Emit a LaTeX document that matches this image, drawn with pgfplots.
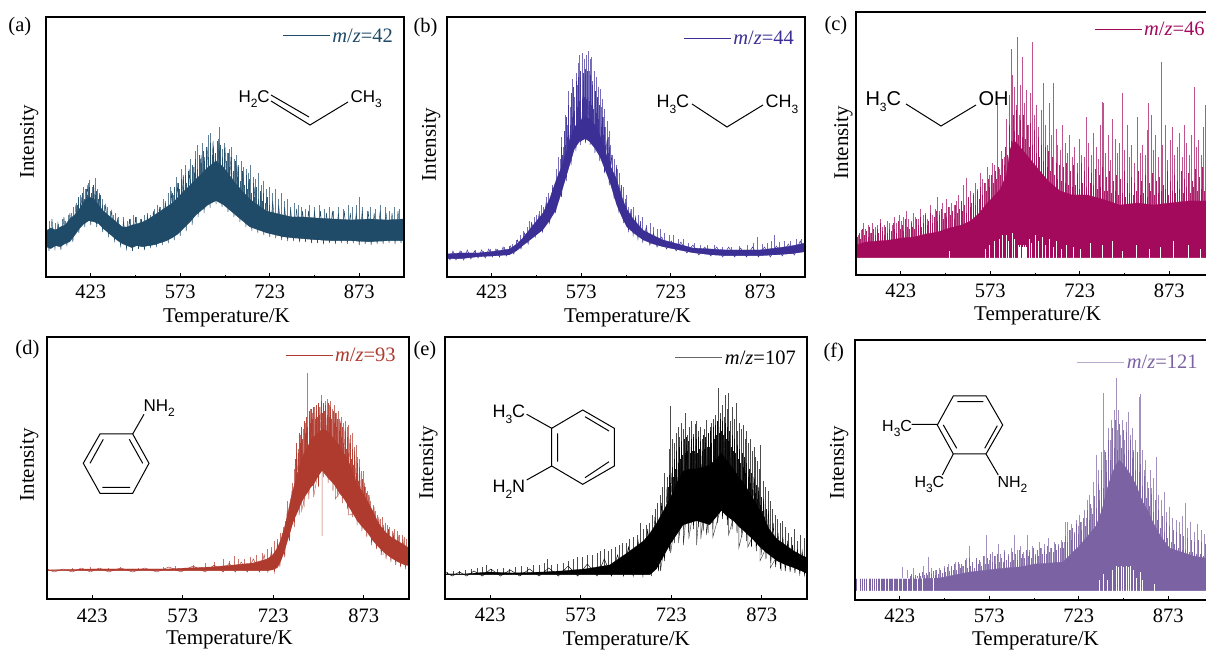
\documentclass[border=0pt]{standalone}
\usepackage{pgfplots}
\usepackage{pgfplotstable}
\usepackage{fontspec}
\pgfplotsset{compat=1.18}
\setmainfont{Liberation Serif}
\newfontfamily\chem{Liberation Sans}
\definecolor{ca}{HTML}{1F4A68}
\definecolor{cb}{HTML}{3B2F96}
\definecolor{cc}{HTML}{A30A5C}
\definecolor{cd}{HTML}{AF3A2E}
\definecolor{ce}{HTML}{000000}
\definecolor{cf}{HTML}{7B62A3}
\newcommand\sub[1]{\raisebox{-.28em}{\fontsize{12}{12}\selectfont #1}}
\newcommand\ch[4]{\node[anchor=base west,inner sep=0pt,font=\chem\fontsize{#3}{#3}\selectfont] at (#1,#2) {#4};}
\newcommand\mz[3]{\addlegendimage{color=#3}\addlegendentry{\textcolor{#1}{\textit{m}/\textit{z}=#2}}}
\pgfplotsset{
 pan/.style={scale only axis, xmin=348, xmax=948, ymin=0, axis on top, no markers,
  xtick={423,573,723,873}, minor xtick={498,648,798}, ytick=\empty,
  xtick pos=lower, tick align=inside, major tick length=4pt, minor tick length=1.5pt,
  every tick/.style={black,line width=1pt},
  axis line style={line width=1.5pt},
  /pgf/number format/assume math mode=true,
  tick label style={font=\fontsize{20.5}{20.5}\selectfont},
  xlabel={Temperature/K}, ylabel={Intensity},
  label style={font=\fontsize{21}{21}\selectfont},
  legend image code/.code={\draw[##1,line width=1pt] (0pt,0pt) -- (47pt,0pt);},
  legend style={draw=none,fill=none,inner sep=0pt,anchor=east,font=\fontsize{20.5}{20.5}\selectfont},
 },
 spk/.style={ycomb,forget plot,color=#1,line width=.5pt,opacity=.7},
 rough/.style={ycomb,forget plot,color=#1,line width=.7pt,opacity=.9},
 band/.style={forget plot,fill=#1,draw=#1,line width=.3pt},
 under/.style={forget plot,fill=white,draw=none},
 hole/.style={ycomb,forget plot,color=white,line width=.6pt},
 down/.style={forget plot,color=#1,line width=.4pt,opacity=.8},
 zig/.style={forget plot,color=#1,line width=.45pt},
}
\pgfplotstableread{
x lo hi
348 30 46
356 28 49
364 31 47
372 30 50
380 33 52
388 35 58
396 41 62
404 48 68
412 53 76
420 56 80
428 55 78
436 53 72
444 48 66
452 44 62
460 40 58
468 36 54
476 33 50
484 31 50
492 29 52
500 31 53
510 30 55
520 31 58
530 32 62
540 34 66
550 36 70
560 39 74
570 43 80
580 49 86
590 55 92
600 62 98
610 67 104
620 72 110
633 76 116
645 72 110
655 67 102
665 62 94
677 56 86
689 50 78
703 47 72
717 44 66
731 42 64
745 40 62
760 39 60
780 38 60
800 37 59
830 36 58
860 36 57
890 35 58
920 36 57
948 36 58
}\tA
\pgfplotstableread{
x lo hi
348 18 23
370 18 24
400 20 24
430 21 26
453 22 28
465 26 33
475 31 39
490 38 50
509 47 64
520 56 78
531 67 97
540 84 110
548 100 124
554 112 138
562 128 150
570 135 156
580 138 160
587 135 158
596 128 152
604 120 142
612 108 128
621 94 112
632 72 98
642 58 78
649 50 68
660 44 58
676 37 47
692 33 42
710 30 37
735 27 33
760 24 29
790 22 28
816 21 27
845 21 27
872 21 27
900 22 29
925 23 31
948 25 34
}\tB
\pgfplotstableread{
x lo hi
348 17 30
365 17 33
385 17 34
405 17 35
425 17 37
445 17 38
465 17 41
485 17 43
505 17 47
525 17 50
540 17 54
555 17 62
565 17 70
578 17 78
590 17 86
600 17 100
606 17 125
612 17 135
620 17 130
634 17 120
645 17 112
656 17 104
670 17 94
690 17 84
710 17 80
735 17 80
760 17 76
790 17 70
820 17 72
846 17 70
875 17 72
905 17 74
935 17 74
948 17 72
}\tC
\pgfplotstableread{
x lo hi
348 28 29
380 28 29.5
420 28 30
450 28 30
500 28 30
547 28 30
580 28 31
620 28 32
658 28 34
690 28 36
713 28 40
722 29 44
730 31 51
736 38 60
741 46 70
746 56 82
752 68 100
757 78 112
763 86 125
770 96 140
774 101 146
780 106 152
786 112 160
790 114 162
797 122 166
804 128 170
812 122 168
818 118 164
824 114 160
832 106 154
840 100 146
846 94 140
854 86 128
862 78 114
870 72 108
879 66 98
888 58 88
897 52 76
907 46 68
918 41 62
929 37 58
940 34 54
948 33 51
}\tD
\pgfplotstableread{
x lo hi
348 24 25
380 24 25
420 24 27
460 24 26
511 24 27
540 24 28
580 24 30
621 24 34
650 24 46
677 24 58
688 24 66
699 30 76
710 42 88
721 54 100
732 64 116
743 74 128
754 76 130
765 78 130
776 76 132
787 74 134
798 82 140
806 88 146
816 82 138
826 78 130
835 72 122
843 68 116
857 60 102
871 51 88
885 44 70
898 38 60
912 34 54
926 31 48
938 28 44
949 25 41
}\tE
\pgfplotstableread{
x lo hi
348 9 21
400 9 21
450 9 21
490 9 22
515 9 25
540 9 28
570 9 30
600 9 32
624 9 33
650 9 36
675 9 37
697 9 38
710 9 46
724 9 54
738 9 64
752 9 74
762 9 90
770 9 110
778 9 125
785 9 135
791 9 140
800 9 134
810 9 125
819 9 115
830 9 98
840 9 88
847 9 78
860 9 64
875 9 52
895 9 48
915 9 44
935 9 42
948 9 42
}\tF
\begin{document}
\begin{tikzpicture}
\useasboundingbox (0,0) rectangle (1206pt,650pt);
\clip (0,0) rectangle (1206pt,650pt);
% (a)
\begin{axis}[pan,at={(46pt,373pt)},anchor=south west,width=358pt,height=260pt,ymax=260,
 legend style={at={(.975,.927)}},
 xticklabel style={anchor=base,yshift=-22pt},
 xlabel style={at={(axis description cs:.504,0)},anchor=base,yshift=-46pt},
 ylabel style={at={(axis description cs:-.034,.52)},anchor=base}]
\addplot[spk=ca] coordinates {(348,52)(353,56)(358,50)(364,54)(369,53)(375,58)(380,56)(385,62)(390,64)(394,70)(398,74)(402,78)(406,82)(410,90)(414,88)(418,94)(421,97)(425,90)(428,92)(431,99)(434,88)(438,84)(442,78)(446,72)(450,70)(455,66)(460,62)(464,64)(469,60)(473,52)(478,60)(484,56)(489,58)(495,62)(500,60)(506,58)(512,62)(517,64)(523,62)(529,68)(534,72)(539,70)(544,78)(548,74)(553,84)(557,90)(562,82)(566,100)(570,92)(574,108)(578,100)(582,112)(586,106)(590,118)(594,110)(598,126)(602,132)(606,118)(610,134)(613,120)(617,126)(620,142)(624,144)(628,130)(632,118)(636,138)(639,150)(643,128)(647,134)(651,124)(655,128)(659,130)(663,118)(667,122)(671,112)(675,116)(679,110)(683,108)(687,104)(691,112)(695,100)(699,98)(703,104)(708,92)(712,96)(717,88)(722,90)(727,84)(732,88)(737,78)(742,84)(748,76)(753,78)(758,70)(764,74)(770,72)(776,70)(782,68)(790,72)(798,70)(806,72)(814,68)(822,70)(830,66)(838,70)(846,68)(854,72)(862,70)(868,72)(873,80)(878,70)(886,66)(892,70)(900,68)(908,72)(916,70)(924,66)(932,70)(940,68)(948,66)};
\addplot[rough=ca] coordinates {(400,72)(403,80)(406,74)(409,84)(412,78)(415,88)(418,82)(421,90)(424,84)(427,92)(430,82)(433,86)(436,78)(439,82)(442,72)(560,84)(563,90)(566,82)(569,94)(572,88)(575,98)(578,90)(581,102)(584,94)(587,106)(590,98)(593,112)(596,104)(599,118)(602,108)(605,122)(608,114)(611,126)(614,116)(617,130)(620,120)(623,134)(626,122)(629,128)(632,124)(635,136)(638,126)(641,132)(644,120)(647,128)(650,116)(653,124)(656,110)(659,120)(662,106)(665,116)(668,100)(671,110)(674,96)(677,106)(680,92)(683,102)(686,88)(689,98)(692,84)(695,94)(698,80)(701,90)(704,78)(707,86)(710,76)(713,84)(716,74)(719,80)(722,72)};
\addplot[band=ca] table[y=hi] {\tA} \closedcycle;
\addplot[under] table[y=lo] {\tA} \closedcycle;
\addplot[zig=ca] coordinates {(348,56)(353,26)(358,58)(363,28)(368,54)(373,27)(378,60)(383,31)(388,64)(393,35)(398,72)(403,44)(408,80)(413,50)(418,92)(423,52)(428,90)(433,50)(438,82)(443,45)(448,72)(453,41)(458,66)(463,36)(468,58)(473,31)(478,56)(483,28)(488,58)(493,26)(498,60)(503,28)(508,58)(513,27)(518,62)(523,29)(528,66)(533,30)(538,70)(543,32)(548,76)(553,34)(558,86)(563,37)(568,94)(573,41)(578,102)(583,46)(588,108)(593,52)(598,114)(603,60)(608,122)(613,64)(618,130)(623,69)(628,136)(633,73)(638,134)(643,70)(648,130)(653,65)(658,120)(663,60)(668,112)(673,55)(678,106)(683,50)(688,96)(693,46)(698,90)(703,44)(708,84)(713,42)(718,80)(723,40)(728,76)(733,39)(738,72)(743,37)(748,70)(753,36)(758,68)(763,36)(768,68)(773,35)(778,66)(783,35)(788,66)(793,34)(798,66)(803,34)(808,66)(813,33)(818,64)(823,34)(828,66)(833,33)(838,64)(843,34)(848,66)(853,33)(858,64)(863,34)(868,64)(873,32)(878,66)(883,33)(888,66)(893,32)(898,64)(903,33)(908,66)(913,33)(918,64)(923,34)(928,64)(933,33)(938,66)(943,34)(948,64)};
\mz{ca}{42}{ca}
\end{axis}
% (b)
\begin{axis}[pan,at={(447pt,373pt)},anchor=south west,width=358pt,height=260pt,ymax=260,
 legend style={at={(.975,.919)}},
 xticklabel style={anchor=base,yshift=-22pt},
 xlabel style={at={(axis description cs:.504,0)},anchor=base,yshift=-46pt},
 ylabel style={at={(axis description cs:-.031,.51)},anchor=base}]
\addplot[spk=cb] coordinates {(348,25)(360,24)(372,26)(384,25)(396,27)(408,26)(420,28)(432,28)(444,30)(452,31)(458,33)(464,37)(470,42)(476,46)(482,50)(486,56)(490,55)(494,60)(498,62)(502,66)(506,72)(510,70)(514,80)(518,84)(522,78)(525,92)(528,88)(531,108)(534,120)(537,118)(540,140)(543,130)(546,162)(549,152)(552,186)(555,170)(558,198)(561,180)(564,204)(566,192)(568,214)(570,222)(572,200)(574,224)(576,196)(578,218)(580,202)(582,222)(584,226)(586,206)(588,218)(590,220)(592,196)(594,206)(596,186)(598,200)(600,178)(602,190)(604,188)(606,170)(608,178)(610,160)(612,168)(614,150)(616,156)(618,140)(620,146)(622,132)(625,122)(628,118)(631,112)(634,108)(637,104)(640,92)(643,90)(646,78)(649,82)(652,70)(656,68)(660,70)(664,58)(668,62)(672,56)(676,60)(682,52)(688,54)(694,50)(700,48)(706,48)(712,44)(720,42)(728,42)(736,38)(744,38)(752,34)(762,34)(772,32)(784,32)(796,32)(810,30)(824,30)(838,31)(852,32)(862,34)(868,40)(876,33)(884,34)(892,36)(897,42)(904,35)(914,36)(924,36)(934,38)(942,38)(948,42)};
\addplot[rough=cb] coordinates {(540,130)(542,122)(544,146)(546,132)(548,160)(550,140)(552,172)(554,152)(556,184)(558,160)(560,190)(562,166)(564,196)(566,170)(568,200)(570,176)(572,206)(574,178)(576,204)(578,180)(580,208)(582,178)(584,206)(586,176)(588,202)(590,172)(592,192)(594,168)(596,186)(598,164)(600,180)(602,158)(604,172)(606,150)(608,160)(610,142)(612,150)(614,132)(616,138)(618,124)(620,130)(622,116)};
\addplot[band=cb] table[y=hi] {\tB} \closedcycle;
\addplot[under] table[y=lo] {\tB} \closedcycle;
\addplot[zig=cb] coordinates {(348,25)(353,17)(358,26)(363,17)(370,26)(376,17)(382,27)(388,18)(394,26)(400,19)(406,27)(412,19)(418,28)(424,20)(430,28)(436,20)(442,30)(448,21)(454,31)(460,23)(466,37)(472,28)(478,44)(484,33)(490,54)(496,40)(502,62)(508,45)(514,74)(520,54)(525,88)(530,64)(535,104)(540,80)(544,124)(548,96)(552,146)(556,112)(560,164)(564,126)(568,176)(572,132)(576,182)(580,134)(584,180)(588,132)(592,176)(596,124)(600,172)(604,116)(608,156)(612,104)(616,136)(620,92)(624,122)(628,78)(632,110)(636,64)(640,92)(644,54)(648,74)(652,46)(656,66)(660,42)(664,60)(668,38)(672,54)(676,35)(682,50)(688,32)(694,44)(700,30)(708,40)(716,28)(724,36)(732,26)(740,35)(750,24)(760,32)(770,22)(780,30)(790,21)(800,30)(810,20)(820,30)(830,20)(840,29)(850,20)(860,30)(870,20)(880,30)(890,20)(900,31)(910,21)(920,33)(930,22)(940,36)(948,24)};
\mz{cb}{44}{cb}
\end{axis}
% (c)
\begin{axis}[pan,at={(856pt,375pt)},anchor=south west,width=358pt,height=263pt,ymax=263,
 legend style={at={(.98,.935)}},
 xticklabel style={anchor=base,yshift=-23pt},
 xlabel style={at={(axis description cs:.507,0)},anchor=base,yshift=-46pt},
 ylabel style={at={(axis description cs:-.022,.503)},anchor=base}]
\addplot[spk=cc] coordinates {(348,62)(352,40)(356,45)(360,52)(364,46)(368,50)(372,42)(376,52)(380,48)(384,50)(388,56)(392,48)(396,50)(400,54)(404,52)(408,50)(412,58)(416,52)(420,60)(424,54)(428,58)(432,64)(436,56)(440,54)(444,62)(448,58)(452,56)(456,66)(460,60)(464,62)(468,56)(472,70)(476,60)(480,66)(484,78)(488,64)(492,72)(496,62)(500,76)(504,68)(508,72)(512,70)(516,74)(520,80)(524,72)(528,90)(532,97)(536,76)(540,84)(544,82)(548,92)(552,86)(556,102)(560,96)(564,92)(568,108)(572,100)(576,112)(580,110)(584,172)(588,106)(592,124)(596,118)(600,156)(604,180)(608,226)(610,200)(613,188)(616,170)(618,238)(621,160)(624,190)(627,218)(630,172)(633,185)(636,150)(640,182)(644,233)(647,160)(650,170)(654,148)(658,165)(662,192)(665,150)(668,130)(672,172)(676,140)(679,192)(683,146)(686,130)(690,125)(694,150)(698,132)(702,122)(706,140)(710,118)(714,128)(718,112)(722,136)(726,120)(730,118)(734,158)(738,132)(742,120)(746,142)(750,128)(754,116)(758,150)(760,173)(763,172)(766,122)(770,140)(774,115)(778,156)(782,136)(786,122)(790,132)(795,182)(798,125)(802,150)(806,118)(810,130)(815,112)(820,158)(824,122)(828,130)(832,120)(836,145)(838,172)(842,160)(846,125)(850,140)(855,118)(859,213)(862,130)(866,150)(870,115)(874,135)(878,148)(882,120)(886,128)(890,142)(894,118)(898,150)(902,132)(906,120)(910,140)(915,188)(918,128)(922,135)(926,120)(930,148)(934,170)(938,128)(942,136)(948,120)};
\addplot[rough=cc] coordinates {(350,38)(353,42)(356,36)(359,46)(362,40)(365,44)(368,38)(371,48)(374,42)(377,46)(380,40)(383,46)(386,42)(389,52)(392,44)(395,40)(398,48)(401,42)(404,46)(407,44)(410,52)(413,46)(416,42)(419,54)(422,46)(425,50)(428,44)(431,56)(434,48)(437,46)(440,52)(443,48)(446,46)(449,56)(452,50)(455,58)(458,48)(461,52)(464,60)(467,50)(470,54)(473,62)(476,52)(479,58)(482,64)(485,54)(488,60)(491,66)(494,56)(497,62)(500,58)(503,68)(506,60)(509,64)(512,56)(515,70)(518,62)(521,66)(524,74)(527,64)(530,70)(533,62)(536,78)(539,68)(542,72)(545,80)(548,70)(551,84)(554,76)(557,88)(560,80)(563,92)(566,84)(569,96)(572,88)(575,100)(578,92)(581,104)(584,96)(587,108)(590,100)(593,116)(596,110)(599,128)(602,120)(605,150)(608,134)(611,160)(614,144)(617,165)(620,140)(623,155)(626,138)(629,160)(632,136)(635,150)(638,128)(641,152)(644,130)(647,145)(650,122)(653,138)(656,118)(659,130)(662,114)(665,128)(668,108)(671,124)(674,104)(677,118)(680,100)(683,112)(686,96)(689,110)(692,94)(695,108)(698,92)(701,112)(704,90)(707,104)(710,88)(713,110)(716,90)(719,102)(722,86)(725,112)(728,92)(731,104)(734,88)(737,108)(740,92)(743,102)(746,90)(749,106)(752,86)(755,100)(758,88)(761,108)(764,84)(767,98)(770,84)(773,104)(776,82)(779,94)(782,84)(785,100)(788,80)(791,96)(794,82)(797,104)(800,78)(803,92)(806,82)(809,98)(812,80)(815,92)(818,84)(821,104)(824,80)(827,94)(830,82)(833,100)(836,78)(839,92)(842,84)(845,102)(848,80)(851,94)(854,82)(857,98)(860,84)(863,90)(866,86)(869,104)(872,80)(875,94)(878,84)(881,100)(884,82)(887,94)(890,86)(893,104)(896,82)(899,96)(902,88)(905,102)(908,82)(911,94)(914,88)(917,106)(920,84)(923,98)(926,86)(929,108)(932,84)(935,96)(938,88)(941,104)(944,82)(948,92)};
\addplot[band=cc] table[y=hi] {\tC} \closedcycle;
\addplot[under] table[y=lo] {\tC} \closedcycle;
\addplot[hole] coordinates {(505,24)(564,26)(572,30)(580,34)(588,36)(594,40)(600,40)(604,34)(610,42)(614,36)(620,30)(622,28)(624,30)(626,28)(628,30)(630,28)(632,30)(634,28)(638,36)(642,32)(648,40)(654,34)(660,38)(666,30)(672,36)(678,28)(684,34)(692,26)(700,30)(712,28)(724,26)(740,32)(760,30)(778,34)(795,24)(818,30)(840,26)(858,28)(880,34)(905,30)(925,26)};
\mz{cc}{46}{cc}
\end{axis}
% (d)
\begin{axis}[pan,at={(47pt,51pt)},anchor=south west,width=362pt,height=262pt,ymax=262,
 legend style={at={(.969,.931)}},
 xticklabel style={anchor=base,yshift=-23pt},
 xlabel style={at={(axis description cs:.504,0)},anchor=base,yshift=-45.5pt},
 ylabel style={at={(axis description cs:-.036,.513)},anchor=base}]
\addplot[spk=cd] coordinates {(390,31)(420,32)(450,31)(470,32)(500,31)(540,32)(560,33)(590,34)(610,36)(625,37)(640,40)(650,38)(658,43)(665,40)(675,40)(685,42)(695,44)(705,46)(713,50)(719,52)(725,58)(730,60)(735,66)(739,72)(743,78)(747,98)(751,96)(755,116)(758,130)(761,146)(764,150)(767,164)(770,168)(773,170)(776,176)(779,226)(782,184)(785,190)(788,186)(791,192)(794,188)(797,196)(800,192)(803,204)(806,194)(809,198)(812,200)(815,194)(818,198)(821,190)(824,194)(827,186)(830,188)(833,180)(836,182)(839,176)(842,178)(845,172)(848,174)(851,164)(854,166)(857,152)(860,154)(863,142)(866,140)(869,128)(872,128)(875,112)(878,108)(881,104)(884,98)(888,94)(892,88)(896,84)(900,80)(904,82)(908,76)(912,74)(916,72)(920,68)(924,70)(928,68)(932,64)(936,64)(940,62)(944,60)(948,60)};
\addplot[rough=cd] coordinates {(760,140)(762,156)(764,146)(766,166)(768,156)(770,172)(772,160)(774,178)(776,166)(778,182)(780,172)(782,188)(784,176)(786,190)(788,180)(790,192)(792,180)(794,194)(796,182)(798,196)(800,184)(802,198)(804,186)(806,196)(808,188)(810,194)(812,184)(814,196)(816,182)(818,192)(820,180)(822,188)(824,176)(826,186)(828,172)(830,180)(832,168)(834,176)(836,162)(838,172)(840,156)(842,168)(844,150)(846,162)(848,146)(850,156)(852,140)(854,150)(856,134)(858,144)(860,126)(862,136)(864,118)(866,128)(868,110)(870,120)(872,104)(874,112)(876,98)(878,106)};
\addplot[band=cd] table[y=hi] {\tD} \closedcycle;
\addplot[under] table[y=lo] {\tD} \closedcycle;
\addplot[zig=cd] coordinates {(348,30)(360,27)(375,30)(390,27)(405,31)(420,27)(435,31)(450,27)(470,31)(490,27)(510,31)(530,27)(550,32)(570,27)(590,33)(610,27)(625,34)(640,27)(650,36)(660,27)(670,37)(680,27)(690,40)(700,27)(708,44)(714,27)(720,48)(725,27)(730,56)(734,32)(738,66)(742,42)(746,88)(750,58)(754,108)(758,72)(762,146)(766,84)(770,162)(774,92)(778,172)(782,100)(786,182)(790,108)(794,186)(798,112)(802,192)(806,122)(810,190)(814,116)(818,188)(822,108)(826,184)(830,102)(834,178)(838,96)(842,170)(846,90)(850,160)(854,82)(858,148)(862,74)(866,132)(870,68)(874,116)(878,62)(882,104)(886,54)(890,92)(894,50)(898,82)(902,44)(906,74)(910,40)(914,70)(918,37)(922,66)(926,34)(930,64)(934,32)(938,60)(942,31)(948,56)};
\addplot[down=cd] coordinates {(770,120)(770,88)(790,140)(790,102)(804,150)(804,63)(804,150)(826,140)(826,100)(848,120)(848,84)(885,90)(885,64)(905,70)(905,44)};
\mz{cd}{93}{cd}
\end{axis}
% (e)
\begin{axis}[pan,at={(445pt,51pt)},anchor=south west,width=362pt,height=262pt,ymax=262,
 legend style={at={(.975,.920)}},
 xticklabel style={anchor=base,yshift=-22pt},
 xlabel style={at={(axis description cs:.501,0)},anchor=base,yshift=-46pt},
 ylabel style={at={(axis description cs:-.033,.52)},anchor=base}]
\addplot[spk=ce] coordinates {(352,27)(362,28)(372,28)(382,29)(392,30)(402,31)(410,32)(416,34)(424,30)(434,30)(444,31)(454,30)(464,32)(474,33)(484,32)(494,34)(504,34)(512,36)(517,40)(524,34)(534,35)(544,36)(552,38)(560,40)(568,42)(576,42)(584,44)(592,44)(600,46)(606,48)(612,50)(618,48)(624,50)(630,52)(636,54)(642,56)(648,56)(654,60)(660,62)(666,64)(671,76)(676,70)(681,74)(686,76)(691,84)(696,90)(700,96)(704,104)(708,112)(712,126)(716,122)(719,150)(722,193)(725,160)(728,156)(731,166)(734,172)(737,162)(740,176)(743,170)(747,186)(750,164)(753,172)(756,178)(759,165)(762,175)(765,178)(768,168)(771,172)(774,160)(777,170)(781,179)(784,166)(787,172)(790,176)(793,180)(796,184)(799,178)(801,211)(804,186)(807,194)(810,182)(812,204)(815,190)(818,206)(821,178)(824,192)(827,180)(830,196)(833,168)(836,176)(839,170)(842,174)(845,160)(848,168)(851,156)(854,160)(857,148)(860,152)(863,142)(866,138)(869,130)(871,154)(875,118)(879,112)(883,108)(887,98)(891,90)(895,84)(899,80)(903,76)(907,78)(912,72)(917,66)(922,62)(927,70)(932,58)(937,64)(943,61)(948,56)};
\addplot[rough=ce] coordinates {(718,112)(720,124)(722,116)(724,132)(726,122)(728,140)(730,130)(732,148)(734,136)(736,152)(738,140)(740,158)(742,144)(744,160)(746,146)(748,162)(750,148)(752,158)(754,146)(756,160)(758,148)(760,162)(762,148)(764,160)(766,146)(768,162)(770,150)(772,158)(774,148)(776,164)(778,150)(780,162)(782,152)(784,166)(786,152)(788,168)(790,156)(792,172)(794,160)(796,174)(798,164)(800,178)(802,166)(804,180)(806,168)(808,178)(810,164)(812,176)(814,160)(816,172)(818,158)(820,168)(822,152)(824,164)(826,148)(828,160)(830,146)(832,154)(834,140)(836,150)(838,136)(840,146)(842,132)(844,142)(846,126)(848,136)(850,122)(852,130)(854,116)(856,126)(858,110)(860,120)(862,106)(864,114)(866,100)(868,108)(870,94)(872,102)(874,88)(876,96)(878,82)(880,90)};
\addplot[band=ce] table[y=hi] {\tE} \closedcycle;
\addplot[under] table[y=lo] {\tE} \closedcycle;
\addplot[zig=ce] coordinates {(348,27)(360,23)(372,27)(384,23)(396,28)(410,23)(424,30)(440,23)(456,29)(472,23)(488,30)(504,23)(520,31)(536,23)(552,33)(568,23)(584,35)(600,23)(612,40)(624,23)(634,44)(644,23)(652,52)(660,23)(668,58)(676,23)(684,70)(690,23)(696,82)(702,28)(707,96)(712,38)(716,112)(720,48)(724,126)(728,56)(732,140)(736,64)(740,152)(744,70)(748,154)(752,66)(756,152)(760,70)(764,154)(768,72)(772,150)(776,68)(780,156)(784,66)(788,160)(792,70)(796,166)(800,76)(804,172)(808,80)(812,166)(816,74)(820,160)(824,70)(828,152)(832,66)(836,146)(840,62)(844,138)(848,58)(852,130)(856,52)(860,122)(864,48)(868,112)(872,44)(876,100)(880,40)(884,88)(888,36)(892,76)(896,32)(900,66)(904,30)(908,62)(912,28)(916,58)(920,27)(924,54)(928,26)(932,50)(936,25)(940,48)(944,24)(948,46)};
\addplot[down=ce] coordinates {(705,60)(705,28)(722,90)(722,46)(735,100)(735,56)(743,100)(743,54)(752,110)(752,60)(765,110)(765,54)(772,110)(772,60)(781,110)(781,64)(792,120)(792,62)(818,120)(818,64)(835,100)(835,51)(850,90)(850,52)(870,80)(870,38)(887,60)(887,31)(905,50)(905,28)};
\mz{ce}{107}{black!60}
\end{axis}
% (f)
\begin{axis}[pan,at={(855pt,50pt)},anchor=south west,width=358pt,height=260pt,ymax=260,
 legend style={at={(.963,.912)}},
 xticklabel style={anchor=base,yshift=-22pt},
 xlabel style={at={(axis description cs:.504,0)},anchor=base,yshift=-45pt},
 ylabel style={at={(axis description cs:-.031,.528)},anchor=base}]
\addplot[spk=cf] coordinates {(427,33)(436,30)(446,32)(455,26)(462,34)(470,43)(476,32)(482,30)(490,32)(498,34)(504,36)(510,32)(516,38)(522,36)(528,34)(534,42)(540,54)(545,36)(552,40)(558,38)(564,44)(568,65)(573,40)(578,48)(583,44)(588,56)(592,46)(598,50)(604,46)(610,52)(615,65)(620,50)(625,54)(630,48)(636,65)(640,50)(645,54)(650,46)(656,58)(660,52)(665,56)(672,62)(676,52)(682,58)(688,56)(694,60)(698,58)(701,78)(704,78)(708,70)(711,76)(715,68)(719,80)(722,74)(724,85)(728,78)(732,90)(735,82)(738,100)(740,105)(744,92)(748,118)(752,145)(755,130)(758,110)(761,148)(764,207)(766,150)(769,140)(772,172)(775,160)(778,180)(782,190)(785,222)(787,170)(790,190)(793,165)(796,180)(799,160)(802,178)(806,188)(809,165)(812,172)(815,150)(818,160)(821,140)(824,203)(826,206)(829,150)(832,130)(835,140)(838,118)(842,130)(845,112)(848,122)(853,143)(857,105)(861,100)(866,108)(870,88)(875,93)(880,82)(886,80)(892,78)(896,84)(901,97)(905,72)(910,78)(916,68)(922,76)(928,70)(934,66)(940,72)(948,64)};
\addplot[rough=cf] coordinates {(440,24)(443,26)(446,23)(449,25)(452,24)(455,27)(458,24)(461,28)(464,25)(467,27)(470,25)(473,28)(476,26)(479,29)(482,25)(485,30)(488,26)(491,30)(494,27)(497,32)(500,28)(503,33)(506,29)(509,34)(512,30)(515,36)(518,30)(521,38)(524,32)(527,36)(530,34)(533,40)(536,32)(539,42)(542,34)(545,38)(548,32)(551,42)(554,36)(557,40)(560,34)(563,44)(566,36)(569,42)(572,36)(575,46)(578,38)(581,44)(584,36)(587,46)(590,38)(593,42)(596,38)(599,48)(602,40)(605,44)(608,38)(611,48)(614,40)(617,46)(620,40)(623,50)(626,42)(629,46)(632,42)(635,50)(638,44)(641,48)(644,42)(647,52)(650,44)(653,50)(656,44)(659,52)(662,46)(665,50)(668,46)(671,54)(674,48)(677,52)(680,48)(683,56)(686,50)(689,54)(692,52)(695,58)(698,52)(701,64)(704,58)(707,70)(710,60)(713,72)(716,66)(719,76)(722,66)(725,78)(728,70)(731,82)(734,74)(737,90)(740,80)(743,96)(746,86)(749,104)(752,92)(755,116)(758,100)(761,130)(764,112)(767,148)(770,128)(773,160)(776,140)(779,172)(782,152)(785,180)(788,150)(791,176)(794,152)(797,170)(800,146)(803,168)(806,150)(809,160)(812,142)(815,148)(818,130)(821,148)(824,128)(827,136)(830,114)(833,124)(836,102)(839,112)(842,94)(845,106)(848,88)(851,100)(854,80)(857,90)(860,72)(863,84)(866,68)(869,78)(872,62)(875,74)(878,58)(881,70)(884,56)(887,68)(890,52)(893,66)(896,50)(899,64)(902,50)(905,62)(908,48)(911,60)(914,48)(917,58)(920,46)(923,60)(926,46)(929,58)(932,44)(935,56)(938,46)(941,58)(944,44)(948,54)};
\addplot[band=cf] table[y=hi] {\tF} \closedcycle;
\addplot[under] table[y=lo] {\tF} \closedcycle;
\addplot[hole] coordinates {(349,22)(351,22)(353,22)(356,22)(358,22)(362,22)(365,22)(368,22)(371,22)(375,22)(378,22)(382,22)(386,22)(391,22)(398,22)(404,22)(412,22)(420,22)(428,22)(435,22)(444,22)(452,22)(460,22)(480,22)(758,20)(764,26)(770,20)(780,30)(786,34)(790,33)(794,34)(798,33)(802,34)(806,33)(810,34)(814,30)(820,22)(826,28)(830,20)(850,16)};
\mz{cf}{121}{cf!55}
\end{axis}
% labels and structures, in picture pixels measured from the top
\begin{scope}[x=1pt,y=-1pt,yshift=650pt,line width=1pt]
\foreach \t/\a/\b in {(a)/8/32,(b)/413/33,(c)/824/31,(d)/15/355,(e)/413/356,(f)/823/358}
 \node[anchor=base west,inner sep=0pt,font=\fontsize{20.5}{20.5}\selectfont] at (\a,\b) {\t};
% a
\ch{238}{103}{17}{H\sub{2}C}\ch{350}{103}{17}{CH\sub{3}}
\draw (271,101)--(310,125)--(348,102); \draw (271,95)--(309,117);
% b
\ch{656}{108}{18}{H\sub{3}C}\ch{765}{108}{18}{CH\sub{3}}
\draw (692,104)--(727,127)--(763,105);
% c
\ch{865}{106}{20}{H\sub{3}C}\ch{978}{106}{20}{OH}
\draw (906,104)--(941,126)--(976,105);
% d
\draw (100,434)--(132.7,434)--(149,463.3)--(132.7,493.3)--(100,493.3)--(83.3,463.3)--cycle;
\draw (90,463.3)--(103.3,439.3) (129.3,439.3)--(142.7,463.3) (102.3,487.3)--(130,487.3);
\draw (132.7,434)--(144,414.3);
\ch{143}{412}{17}{NH\sub{2}}
% e
\draw (551.7,428.3)--(582.7,410)--(614.3,428.3)--(614.3,466)--(582.7,484.3)--(551.7,466)--cycle;
\draw (557.7,433.3)--(557.7,461.7) (585,416.7)--(609,431) (609,461.7)--(585,477.7);
\draw (526.7,414.3)--(551.7,428.3) (526.7,480)--(551.7,466);
\ch{492}{418}{18}{H\sub{3}C}\ch{492}{493}{18}{H\sub{2}N}
% f
\draw (953.3,396)--(986,396)--(1002.7,425)--(986,454)--(953.3,454)--(937.3,425)--cycle;
\draw (957.3,401.7)--(983.3,401.7) (997.3,425.7)--(984.7,448.3) (943.3,425)--(956.7,448.3);
\draw (911.7,424.3)--(937.3,424.3) (953.3,454)--(942.3,475) (986,454)--(998.3,475);
\ch{881.7}{432}{16}{H\sub{3}C}\ch{914}{488}{16}{H\sub{3}C}\ch{997}{488}{16}{NH\sub{2}}
\end{scope}
\end{tikzpicture}
\end{document}
